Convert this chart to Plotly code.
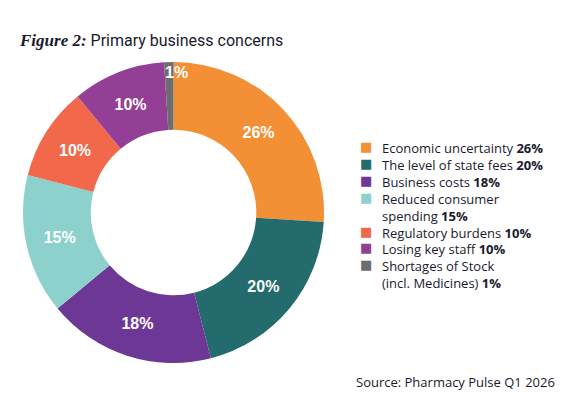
import plotly.graph_objects as go

# the page body adds an 8px margin, so the figure is drawn 8px in from the corner
OFFSET = 8
WIDTH = 552
HEIGHT = 389

categories = [
    'Economic uncertainty',
    'The level of state fees',
    'Business costs',
    'Reduced consumer<br>spending',
    'Regulatory burdens',
    'Losing key staff',
    'Shortages of Stock<br>(incl. Medicines)',
]
values = [26, 20, 18, 15, 10, 10, 1]
colors = ['#F38F34', '#236B6D', '#6C3795', '#8CD1CB', '#F1684B', '#943F96', '#6D6D6D']

TEXT_FONT = 'Open Sans'
TEXT_COLOR = '#1a1a2e'


def px_x(x):
    return (x - OFFSET) / WIDTH


def px_y(y):
    return 1 - (y - OFFSET) / HEIGHT


# the tiny slice gets its label as an annotation instead
slice_text = [f'{v}%' if v > 1 else '' for v in values]

fig = go.Figure(go.Pie(
    labels=[c.replace('<br>', ' ') for c in categories],
    values=values,
    text=slice_text,
    textinfo='text',
    textposition='inside',
    insidetextorientation='horizontal',
    textfont=dict(family='Liberation Sans', size=16, color='white', weight='bold'),
    marker=dict(colors=colors, line=dict(width=0)),
    hole=0.55,
    sort=False,
    direction='clockwise',
    rotation=0,
    domain=dict(x=[px_x(22), px_x(325)], y=[px_y(363), px_y(62)]),
    hoverinfo='label+percent',
    showlegend=False,
))

fig.add_annotation(
    text='<b>1%</b>', x=px_x(163), y=px_y(62), xref='paper', yref='paper',
    showarrow=False, font=dict(family='Liberation Sans', size=16, color='white'),
)

# legend drawn as two text columns so the line spacing stays tight
square_lines = []
label_lines = []
for cat, val, col in zip(categories, values, colors):
    parts = cat.split('<br>')
    parts[-1] = f'{parts[-1]} <b>{val}%</b>'
    square_lines.append(f"<span style='color:{col}'>■</span>")
    square_lines.extend(['\u00a0'] * (len(parts) - 1))
    label_lines.extend(parts)

fig.add_annotation(
    text='<br>'.join(square_lines), x=px_x(358), y=px_y(137),
    xref='paper', yref='paper', xanchor='left', yanchor='top', align='left',
    showarrow=False, font=dict(family='DejaVu Sans', size=13, color=TEXT_COLOR),
)
fig.add_annotation(
    text='<br>'.join(label_lines), x=px_x(380), y=px_y(137),
    xref='paper', yref='paper', xanchor='left', yanchor='top', align='left',
    showarrow=False, font=dict(family=TEXT_FONT, size=13, color=TEXT_COLOR),
)

fig.add_annotation(
    text='Source: Pharmacy Pulse Q1 2026', x=px_x(557), y=px_y(382),
    xref='paper', yref='paper', xanchor='right', yanchor='middle', showarrow=False,
    font=dict(family=TEXT_FONT, size=13, color=TEXT_COLOR),
)

fig.update_layout(
    width=WIDTH,
    height=HEIGHT,
    margin=dict(l=0, r=0, t=0, b=0),
    paper_bgcolor='white',
    plot_bgcolor='white',
    title=dict(
        text="<b><i><span style=\"font-family:'Liberation Serif';font-size:17px\">Figure 2:</span></i></b> Primary business concerns",
        x=px_x(20), xanchor='left', xref='container',
        y=px_y(40), yanchor='middle', yref='container',
        font=dict(family='Roboto', size=16, color=TEXT_COLOR),
    ),
    showlegend=False,
)

fig.write_html('out.html')
